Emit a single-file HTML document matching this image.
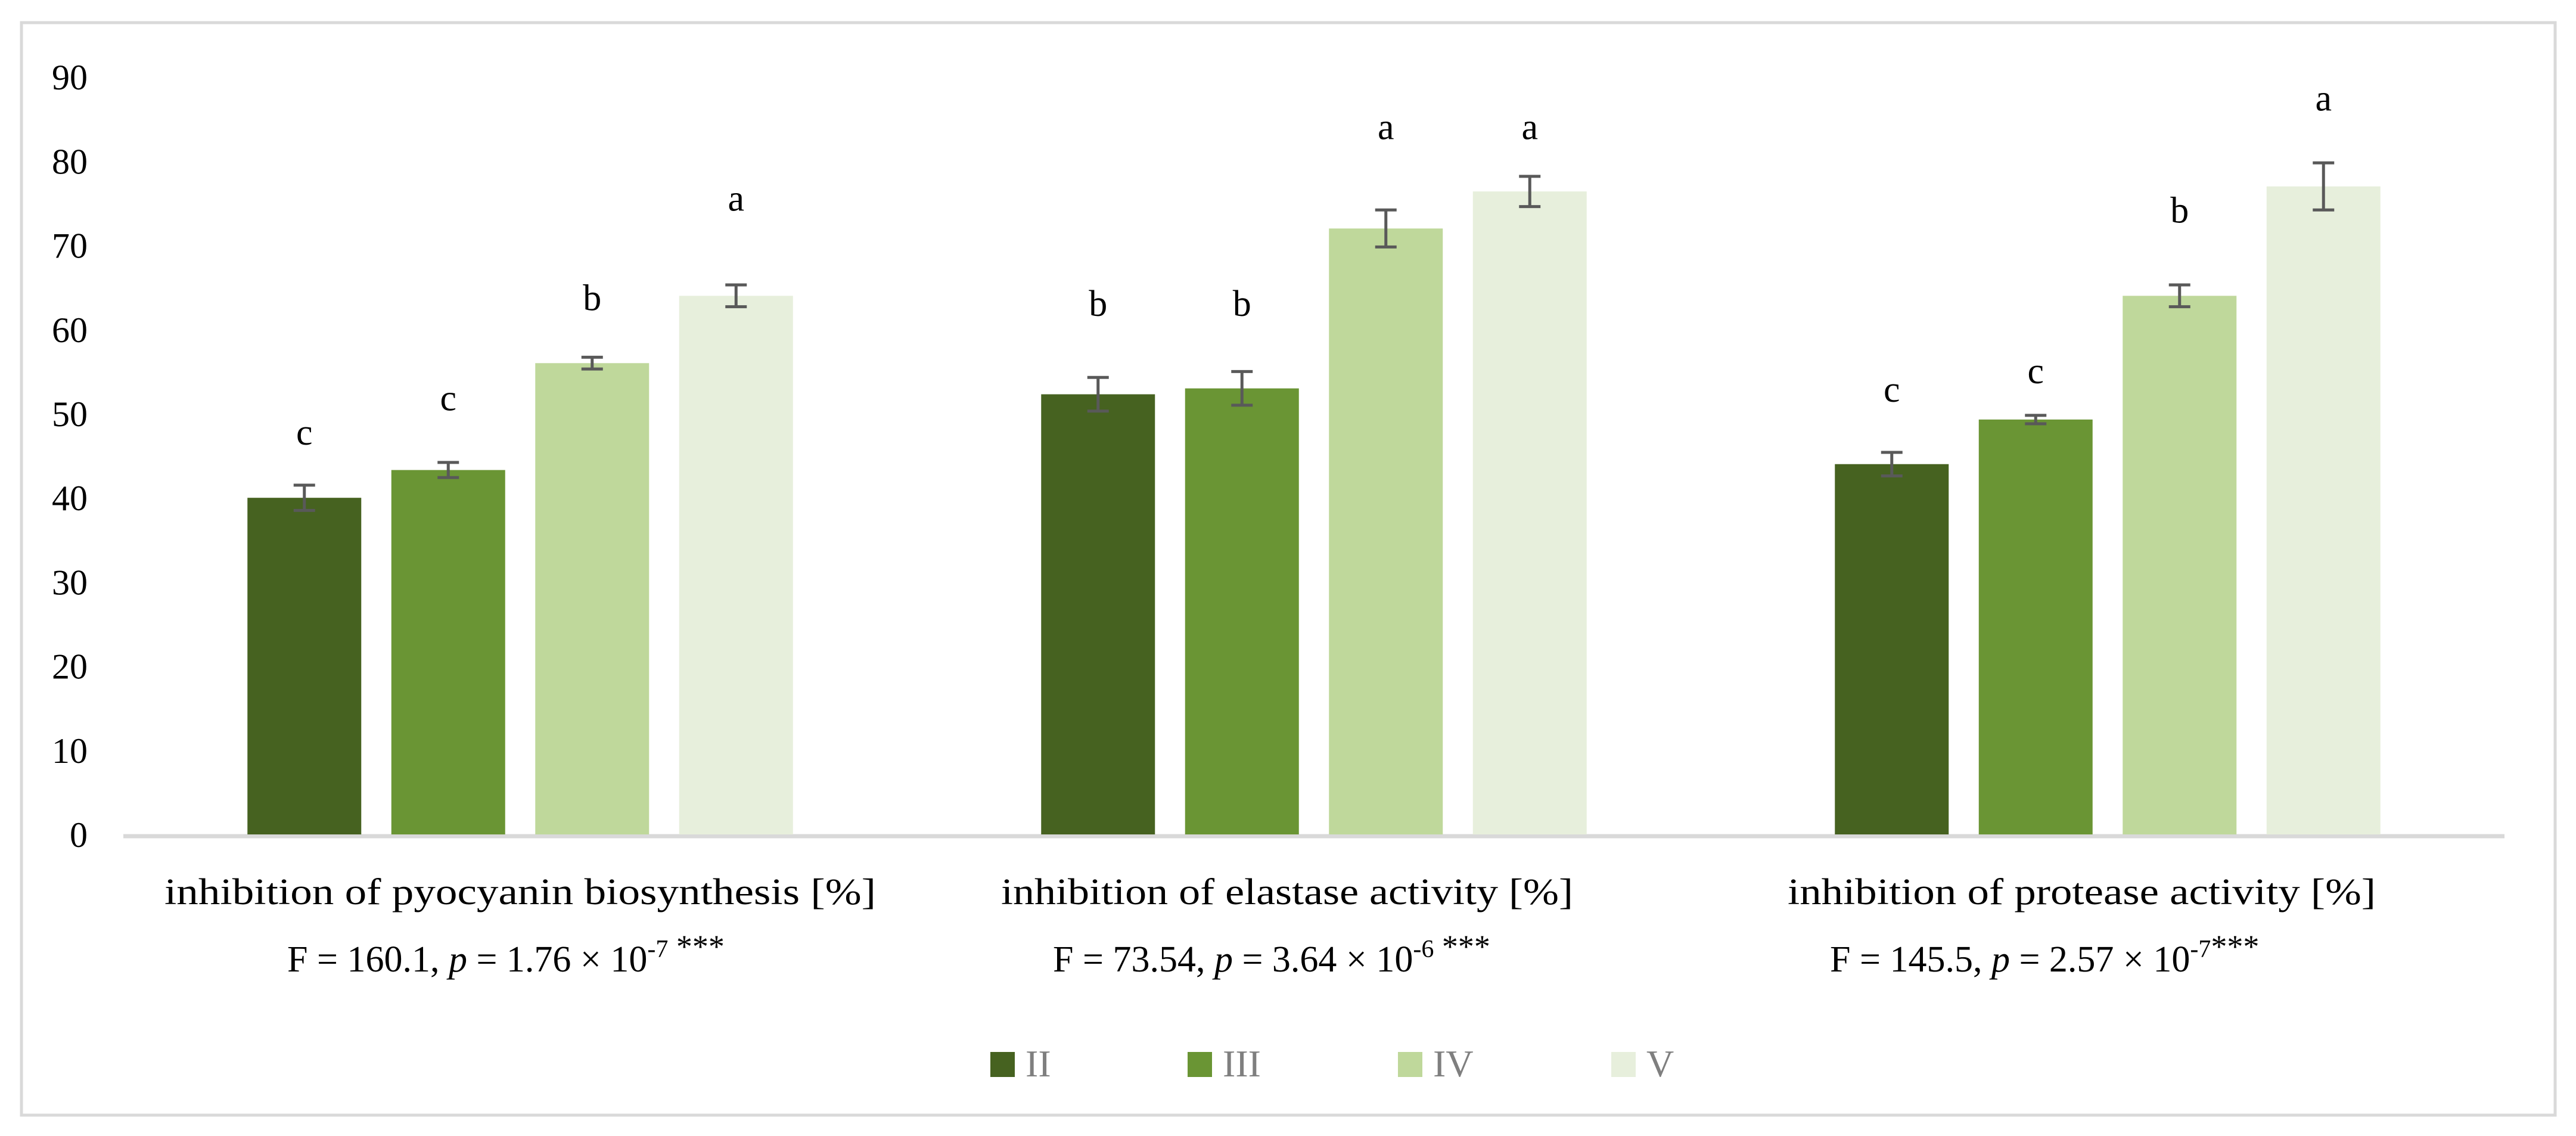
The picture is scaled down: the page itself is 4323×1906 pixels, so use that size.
<!DOCTYPE html>
<html><head><meta charset="utf-8"><style>
body{margin:0;background:#fff}
svg text{font-family:"Liberation Serif",serif}
</style></head><body>
<svg id="c" width="4323" height="1901" viewBox="0 0 4323 1901" xmlns="http://www.w3.org/2000/svg">
<rect x="36" y="38" width="4252" height="1833" fill="#fff" stroke="#d9d9d9" stroke-width="5"/>
<g id="g"></g>
</svg>
<script>
const categories=["inhibition of pyocyanin biosynthesis [%]","inhibition of elastase activity [%]","inhibition of protease activity [%]"];
const seriesNames=["II","III","IV","V"];
const seriesColors=["#466220","#6a9534","#bfd89b","#e7efdc"];
const valuesII=[40,52.3,44];
const valuesIII=[43.3,53,49.3];
const valuesIV=[56,72,64];
const valuesV=[64,76.4,77];
const errII=[1.5,2,1.4];
const errIII=[0.9,2,0.5];
const errIV=[0.7,2.2,1.3];
const errV=[1.3,1.8,2.8];
const lettersII=["c","b","c"];
const lettersIII=["c","b","c"];
const lettersIV=["b","a","b"];
const lettersV=["a","a","a"];
const letterPosII=[46.3,61.6,51.4];
const letterPosIII=[50.4,61.6,53.6];
const letterPosIV=[62.3,82.6,72.7];
const letterPosV=[74.1,82.6,86];
const yTicks=[0,10,20,30,40,50,60,70,80,90];
const stats=[["160.1","  1.76","-7"," ***"],["73.54","3.64","-6"," ***"],["145.5","2.57","-7","***"]];

const NS="http://www.w3.org/2000/svg";
const g=document.getElementById("g");
const X0=207,X1=4203,Y0=1400,PER=14.12;
const y=v=>Y0-v*PER;
const gw=(X1-X0)/categories.length;
const bw=191,step=241.5;
const bx=(ci,si)=>X0+gw*ci+gw/2+(si-1.5)*step-bw/2;
const catStart=[276,1680,3000],catLen=[1194,960,987];
const statStart=[482,1767,3071],statLen=[750,761,747];
function el(t,a){const e=document.createElementNS(NS,t);for(const k in a)e.setAttribute(k,a[k]);g.appendChild(e);return e;}

yTicks.forEach(t=>{
  const e=el("text",{x:147,y:y(t)+21,"text-anchor":"end","font-size":60,fill:"#000"});
  e.textContent=t;
  
  
});
const ax=el("line",{x1:X0,x2:X1,y1:Y0+3,y2:Y0+3,stroke:"#d9d9d9","stroke-width":7});



const vals=[valuesII,valuesIII,valuesIV,valuesV];
const errs=[errII,errIII,errIV,errV];
const lets=[lettersII,lettersIII,lettersIV,lettersV];
const lpos=[letterPosII,letterPosIII,letterPosIV,letterPosV];
categories.forEach((c,ci)=>{
  vals.forEach((s,si)=>{
    const x=bx(ci,si),v=s[ci];
    const r=el("rect",{x:x,y:y(v),width:bw,height:Y0-y(v),fill:seriesColors[si]});
    
    
    const cx=x+bw/2,e=errs[si][ci];
    const p=el("path",{d:`M${cx},${y(v+e)}V${y(v-e)}M${cx-18},${y(v+e)}H${cx+18}M${cx-18},${y(v-e)}H${cx+18}`,stroke:"#595959","stroke-width":5,fill:"none"});
    
    
    const t=el("text",{x:cx,y:y(lpos[si][ci]),"text-anchor":"middle","font-size":62,fill:"#000"});
    t.textContent=lets[si][ci];
    
    
  });
  const ct=el("text",{x:catStart[ci],y:1517,"font-size":62,fill:"#000",textLength:catLen[ci],lengthAdjust:"spacingAndGlyphs"});
  ct.textContent=c;
  
  
  const st=el("text",{x:statStart[ci],y:1630,"font-size":62,fill:"#000","xml:space":"preserve"});
  
  
  const s=stats[ci];
  st.innerHTML=`F = ${s[0]}, <tspan font-style="italic">p</tspan> = ${s[1]} × 10<tspan dy="-24" font-size="42">${s[2]}</tspan><tspan font-size="54">${s[3]}</tspan>`;
});
const legX=[1662,1993,2346,2704];
seriesNames.forEach((n,i)=>{
  const r=el("rect",{x:legX[i],y:1765,width:41,height:42,fill:seriesColors[i]});
  
  
  const t=el("text",{x:legX[i]+59,y:1806,"font-size":64,fill:"#7f7f7f"});
  t.textContent=n;
  
  
});
</script>
</body></html>
